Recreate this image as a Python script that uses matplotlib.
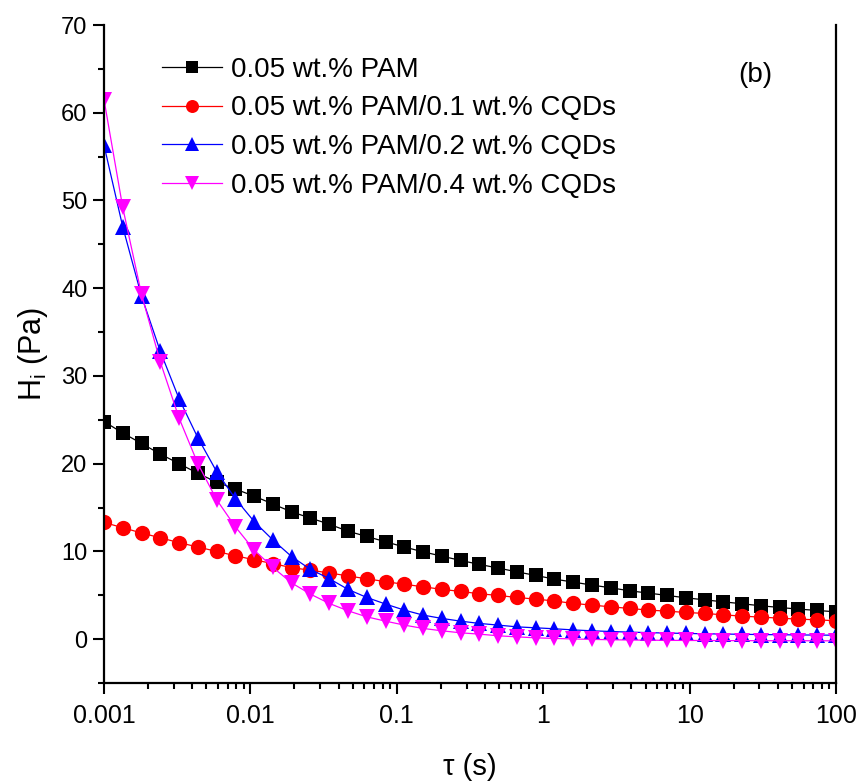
import matplotlib
matplotlib.use("Agg")
import matplotlib.pyplot as plt
from matplotlib.ticker import LogLocator, MultipleLocator, FixedLocator, FixedFormatter, NullFormatter

plt.rcParams['font.family'] = ['Liberation Sans', 'DejaVu Sans']
plt.rcParams['mathtext.fontset'] = 'custom'
plt.rcParams['mathtext.rm'] = 'Liberation Sans'

# ---- data ----
tau = [0.001, 0.001343, 0.001804, 0.002424, 0.003256, 0.004375, 0.005878, 0.007897,
       0.01061, 0.01425, 0.01915, 0.02572, 0.03455, 0.04642, 0.06236, 0.08377,
       0.1125, 0.1512, 0.2031, 0.2728, 0.3665, 0.4924, 0.6615, 0.8886,
       1.194, 1.604, 2.154, 2.894, 3.888, 5.223, 7.017, 9.427,
       12.66, 17.01, 22.86, 30.70, 41.25, 55.41, 74.44, 100.0]

pam = [24.8, 23.5, 22.3, 21.1, 20.0, 18.9, 17.9, 17.1, 16.3, 15.4,
       14.5, 13.8, 13.1, 12.3, 11.7, 11.1, 10.5, 9.95, 9.46, 8.97,
       8.52, 8.10, 7.67, 7.26, 6.84, 6.50, 6.16, 5.85, 5.51, 5.25,
       4.98, 4.71, 4.48, 4.25, 4.03, 3.80, 3.61, 3.42, 3.27, 3.11]

cqd01 = [13.3, 12.7, 12.1, 11.55, 11.0, 10.5, 10.0, 9.5, 9.05, 8.6,
         8.15, 7.85, 7.55, 7.2, 6.88, 6.55, 6.25, 5.97, 5.67, 5.44,
         5.17, 4.98, 4.75, 4.56, 4.35, 4.07, 3.88, 3.68, 3.50, 3.31,
         3.19, 3.04, 2.93, 2.77, 2.62, 2.51, 2.39, 2.28, 2.20, 2.09]

cqd02 = [56.3, 47.0, 39.1, 32.8, 27.4, 22.95, 19.1, 16.0, 13.4, 11.3,
         9.4, 7.95, 6.9, 5.67, 4.75, 4.0, 3.31, 2.74, 2.36, 2.05,
         1.79, 1.60, 1.40, 1.29, 1.18, 1.05, 0.95, 0.87, 0.80, 0.74,
         0.69, 0.65, 0.61, 0.58, 0.55, 0.52, 0.50, 0.48, 0.46, 0.45]

cqd04 = [61.5, 49.2, 39.3, 31.6, 25.2, 20.0, 15.9, 12.8, 10.15, 8.17,
         6.4, 5.13, 4.07, 3.23, 2.54, 2.05, 1.60, 1.22, 0.95, 0.72,
         0.57, 0.38, 0.26, 0.15, 0.08, 0.02, -0.03, -0.07, -0.10, -0.12,
         -0.14, -0.15, -0.16, -0.17, -0.17, -0.18, -0.18, -0.18, -0.19, -0.19]

labels = ['0.05 wt.% PAM', '0.05 wt.% PAM/0.1 wt.% CQDs',
          '0.05 wt.% PAM/0.2 wt.% CQDs', '0.05 wt.% PAM/0.4 wt.% CQDs']
colors = ['#000000', '#FF0000', '#0000FF', '#FF00FF']
markers = ['s', 'o', '^', 'v']
msizes = [10.5, 11, 12, 12]

xticks = [0.001, 0.01, 0.1, 1, 10, 100]
xticklabels = ['0.001', '0.01', '0.1', '1', '10', '100']
yticks = [0, 10, 20, 30, 40, 50, 60, 70]

# ---- figure ----
fig = plt.figure(figsize=(8.58, 7.82), dpi=100)
ax = fig.add_axes([104/858, 1-683/782, (836-104)/858, (683-25)/782])

series = [pam, cqd01, cqd02, cqd04]
for ys, c, m, ms, lab in zip(series, colors, markers, msizes, labels):
    ax.plot(tau, ys, color=c, marker=m, markersize=ms, linewidth=0.9,
            markeredgewidth=0, label=lab)

ax.set_xscale('log')
ax.set_xlim(0.001, 100)
ax.set_ylim(-5, 70)

ax.xaxis.set_major_locator(FixedLocator(xticks))
ax.xaxis.set_major_formatter(FixedFormatter(xticklabels))
ax.xaxis.set_minor_locator(LogLocator(base=10, subs=range(2, 10), numticks=20))
ax.xaxis.set_minor_formatter(NullFormatter())
ax.yaxis.set_major_locator(FixedLocator(yticks))
ax.yaxis.set_minor_locator(MultipleLocator(5))

for s in ['left', 'bottom', 'right']:
    ax.spines[s].set_linewidth(1.6)
ax.spines['top'].set_visible(False)

ax.tick_params(axis='both', which='major', direction='out', length=8, width=1.5)
ax.tick_params(axis='both', which='minor', direction='out', length=4, width=1.5)
ax.tick_params(axis='y', which='major', labelsize=17, pad=4)
ax.tick_params(axis='x', which='major', labelsize=18, pad=7)
ax.tick_params(right=False, top=False, which='both')

ax.set_xlabel('τ (s)', fontsize=21, labelpad=18)
ax.set_ylabel(r'H$_{\mathregular{i}}$ (Pa)', fontsize=22, labelpad=8)

leg = ax.legend(loc='upper left', bbox_to_anchor=(162/858, 1-57/782),
                bbox_transform=fig.transFigure, frameon=False, fontsize=20,
                handlelength=2.15, handletextpad=0.35, labelspacing=0.45,
                borderpad=0, borderaxespad=0, markerscale=0.85)

ax.text(755/858, 1-75/782, '(b)', transform=fig.transFigure, fontsize=20,
        ha='center', va='center')

fig.savefig('out.png', dpi=100)
